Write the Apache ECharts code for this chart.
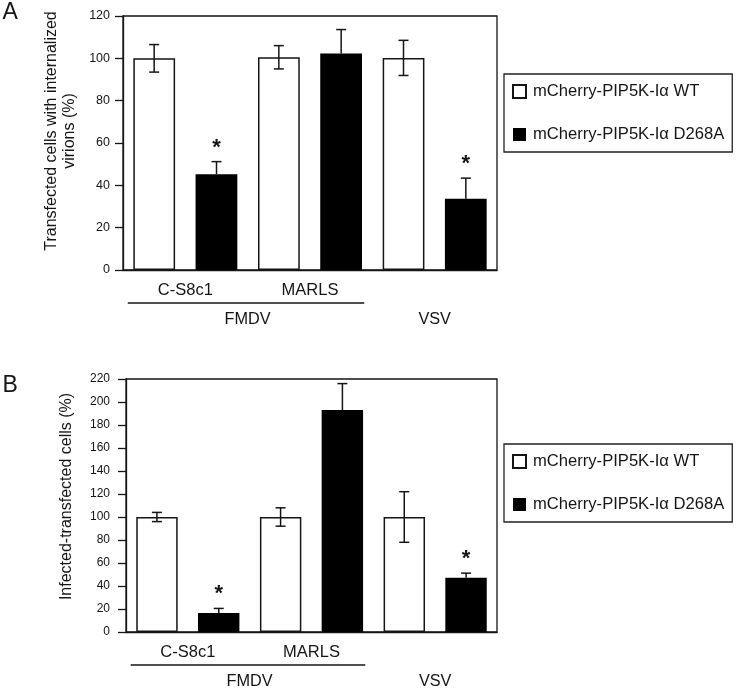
<!DOCTYPE html>
<html><head><meta charset="utf-8">
<script src="https://cdn.jsdelivr.net/npm/echarts@6/dist/echarts.min.js"></script>
<style>html,body{margin:0;padding:0;background:#fff}#c{width:736px;height:692px}</style>
</head><body><div id="c"></div>
<script>
// ---- data ----
const categories = ['C-S8c1', 'MARLS', 'VSV'];
const tickLabels = ['C-S8c1', 'MARLS', ''];
const seriesNames = ['mCherry-PIP5K-Iα WT', 'mCherry-PIP5K-Iα D268A'];
const groupNames = ['FMDV', 'VSV'];
const groupFrom = [0, 2];
const groupTo = [1, 2];
const groupLine = [1, 0];

const aTitle = 'Transfected cells with internalized\nvirions (%)';
const aWT = [100, 100.5, 100.2];
const aWTErr = [6.5, 5.5, 8.3];
const aMut = [45.2, 102.3, 33.7];
const aMutErr = [6, 11.3, 9.7];
const aStar = [1, 0, 1];

const bTitle = 'Infected-transfected cells (%)';
const bWT = [100, 100, 100];
const bWTErr = [4, 8, 22];
const bMut = [16.5, 193, 47.2];
const bMutErr = [4, 23, 4];
const bStar = [1, 0, 1];

const INK = '#151515';
const FONT = "'Liberation Sans', Arial, Helvetica, sans-serif";

function errData(wt, wtErr, mut, mutErr, star) {
  const out = [];
  categories.forEach((c, i) => {
    out.push([i, wt[i], wtErr[i], wtErr[i], -1, 0]);
    out.push([i, mut[i], mutErr[i], 0, 1, star[i]]);
  });
  return out;
}

function renderErr(params, api) {
  const cat = api.value(0), v = api.value(1), up = api.value(2), dn = api.value(3), side = api.value(4), star = api.value(5);
  const band = api.size([1, 0])[0];
  const x = api.coord([cat, v])[0] + side * band * 0.25;
  const yTop = api.coord([cat, v + up])[1];
  const yBot = api.coord([cat, v - dn])[1];
  const ls = { stroke: INK, lineWidth: 1.5 };
  const ch = [
    { type: 'line', shape: { x1: x, y1: yTop, x2: x, y2: yBot }, style: ls },
    { type: 'line', shape: { x1: x - 5, y1: yTop, x2: x + 5, y2: yTop }, style: ls }
  ];
  if (dn > 0) ch.push({ type: 'line', shape: { x1: x - 5, y1: yBot, x2: x + 5, y2: yBot }, style: ls });
  if (star) ch.push({ type: 'text', style: { text: '*', x: x, y: yTop - 14, fill: INK, fontSize: 22, fontWeight: 'bold', fontFamily: FONT, align: 'center', verticalAlign: 'middle' } });
  return { type: 'group', children: ch };
}

function renderGroup(params, api) {
  const from = api.value(0), to = api.value(2), idx = api.value(3);
  const band = api.size([1, 0])[0];
  const p0 = api.coord([from, 0]), p1 = api.coord([to, 0]);
  const cx = (p0[0] + p1[0]) / 2, y0 = p0[1];
  const ch = [];
  if (groupLine[idx]) ch.push({ type: 'line', shape: { x1: p0[0] - 0.462 * band, y1: y0 + 33, x2: p1[0] + 0.435 * band, y2: y0 + 33 }, style: { stroke: INK, lineWidth: 1.3 } });
  ch.push({ type: 'text', style: { text: groupNames[idx], x: cx, y: y0 + 50, fill: INK, fontSize: 16.3, fontFamily: FONT, align: 'center', verticalAlign: 'middle' } });
  return { type: 'group', children: ch };
}

const groupData = groupNames.map((n, i) => [groupFrom[i], 0, groupTo[i], i]);

function xAx(g) {
  return {
    gridIndex: g, type: 'category', data: categories,
    axisTick: { show: false },
    axisLine: { lineStyle: { color: INK, width: 1.3 } },
    axisLabel: { interval: 0, formatter: (v, i) => tickLabels[i], fontSize: 16.5, margin: 12, color: INK }
  };
}
function yAx(g, max, name, gap, labMargin, fs, pad) {
  return {
    gridIndex: g, type: 'value', min: 0, max: max, interval: 20,
    splitLine: { show: false },
    axisLine: { show: true, lineStyle: { color: INK, width: 1.3 } },
    axisTick: { show: true, length: 8, lineStyle: { color: INK, width: 1.3 } },
    axisLabel: { fontSize: fs, margin: labMargin, color: INK },
    name: name, nameLocation: 'middle', nameGap: gap,
    nameTextStyle: { fontSize: 16, lineHeight: 18, color: INK, padding: pad }
  };
}
function legendAt(top) {
  return {
    orient: 'vertical', left: 504, top: top, data: seriesNames,
    icon: 'rect', itemWidth: 13, itemHeight: 13, itemGap: 26,
    padding: [9, 8, 9, 8], borderColor: '#222', borderWidth: 1.3,
    textStyle: { fontSize: 16.6, color: INK, fontFamily: FONT, padding: [0, 0, 0, 2] },
    selectedMode: false
  };
}
const wtStyle = { color: '#fff', borderColor: INK, borderWidth: 1.5 };
const mutStyle = { color: '#000', borderColor: '#000', borderWidth: 0 };

const chart = echarts.init(document.getElementById('c'));
chart.setOption({
  animation: false,
  textStyle: { fontFamily: FONT },
  title: [
    { text: 'A', left: 2.5, top: 1.5, padding: 0, textStyle: { fontSize: 23, fontWeight: 'normal', color: INK } },
    { text: 'B', left: 2.5, top: 374.5, padding: 0, textStyle: { fontSize: 23, fontWeight: 'normal', color: INK } }
  ],
  legend: [legendAt(74), legendAt(444)],
  grid: [
    { left: 123, top: 16, width: 374, height: 254, show: true, borderColor: INK, borderWidth: 1.3 },
    { left: 126, top: 379, width: 371, height: 253, show: true, borderColor: INK, borderWidth: 1.3 }
  ],
  xAxis: [xAx(0), xAx(1)],
  yAxis: [
    yAx(0, 120, aTitle, 42, 13, 12.5, [0, 0, 0, 24]),
    yAx(1, 220, bTitle, 50, 16, 12, [0, 0, 0, 18])
  ],
  series: [
    { type: 'bar', name: seriesNames[0], xAxisIndex: 0, yAxisIndex: 0, data: aWT, barWidth: '33.5%', barGap: '49%', itemStyle: wtStyle, silent: true },
    { type: 'bar', name: seriesNames[1], xAxisIndex: 0, yAxisIndex: 0, data: aMut, barWidth: '33.5%', barGap: '49%', itemStyle: mutStyle, silent: true },
    { type: 'bar', name: seriesNames[0], xAxisIndex: 1, yAxisIndex: 1, data: bWT, barWidth: '33.5%', barGap: '49%', itemStyle: wtStyle, silent: true },
    { type: 'bar', name: seriesNames[1], xAxisIndex: 1, yAxisIndex: 1, data: bMut, barWidth: '33.5%', barGap: '49%', itemStyle: mutStyle, silent: true },
    { type: 'custom', name: 'errA', xAxisIndex: 0, yAxisIndex: 0, data: errData(aWT, aWTErr, aMut, aMutErr, aStar), encode: { x: 0, y: 1 }, renderItem: renderErr, z: 5, silent: true },
    { type: 'custom', name: 'errB', xAxisIndex: 1, yAxisIndex: 1, data: errData(bWT, bWTErr, bMut, bMutErr, bStar), encode: { x: 0, y: 1 }, renderItem: renderErr, z: 5, silent: true },
    { type: 'custom', name: 'grpA', xAxisIndex: 0, yAxisIndex: 0, data: groupData, encode: { x: 0, y: 1 }, renderItem: renderGroup, clip: false, silent: true },
    { type: 'custom', name: 'grpB', xAxisIndex: 1, yAxisIndex: 1, data: groupData, encode: { x: 0, y: 1 }, renderItem: renderGroup, clip: false, silent: true }
  ]
});
</script></body></html>
